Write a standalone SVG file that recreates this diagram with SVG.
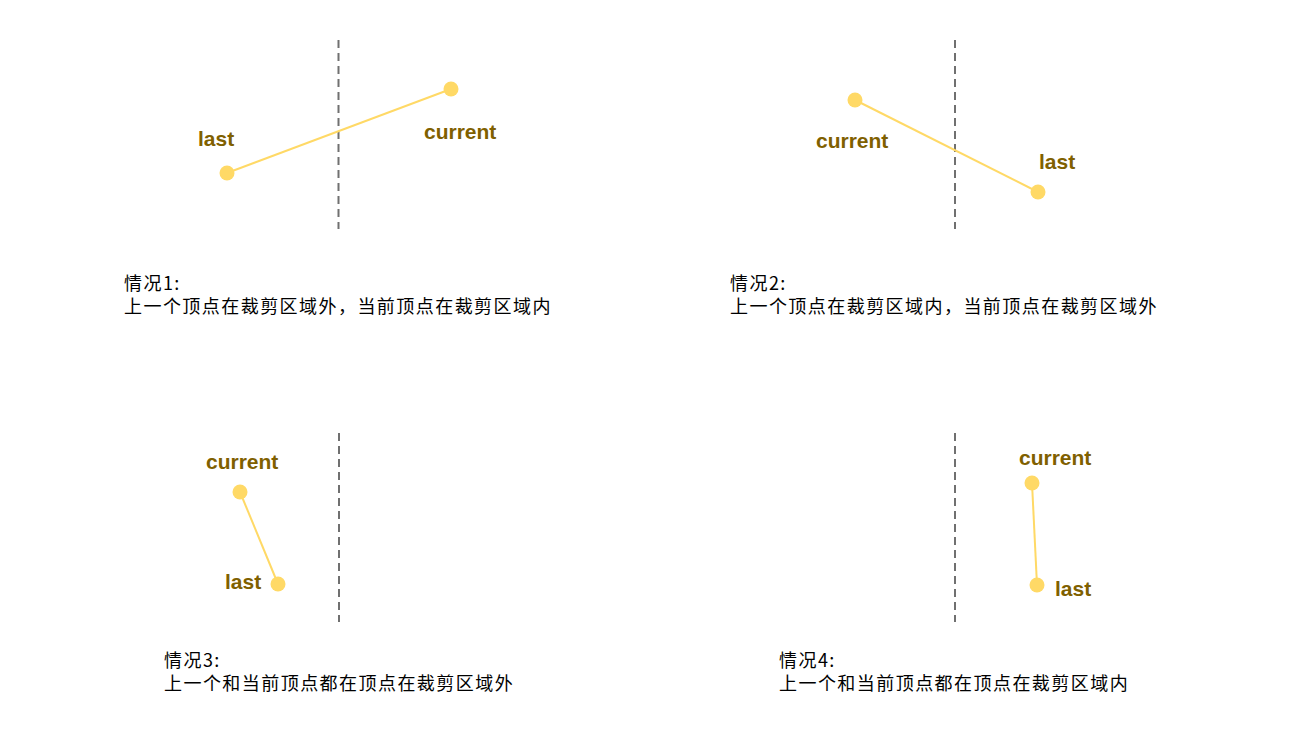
<svg xmlns="http://www.w3.org/2000/svg" width="1311" height="736" viewBox="0 0 1311 736">
<style>
.clip{stroke:#707070;stroke-width:2;stroke-dasharray:8,5;fill:none}
.seg{stroke:#FFD966;stroke-width:2;fill:none}
.pt{fill:#FFD966}
.lbl{font-family:"Liberation Sans",Arial,sans-serif;font-weight:bold;font-size:21px;fill:#7F6000}
.cap{font-family:"Noto Sans CJK SC","Noto Sans",sans-serif;font-size:18px;fill:#000;letter-spacing:1.45px}
</style>
<rect width="1311" height="736" fill="#fff"/>
<g id="clip-lines">
<line class="clip" x1="338.5" y1="40" x2="338.5" y2="229"/>
<line class="clip" x1="955" y1="40" x2="955" y2="229"/>
<line class="clip" x1="339" y1="433" x2="339" y2="622"/>
<line class="clip" x1="955" y1="433" x2="955" y2="622"/>
</g>
<g id="connectors">
<line class="seg" x1="227" y1="173" x2="451" y2="89"/>
<line class="seg" x1="855" y1="100" x2="1038" y2="192"/>
<line class="seg" x1="240" y1="492" x2="278" y2="584"/>
<line class="seg" x1="1032" y1="483" x2="1037" y2="585"/>
</g>
<g id="case1">
<circle class="pt" cx="227" cy="173" r="7.5"/>
<circle class="pt" cx="451" cy="89" r="7.5"/>
<text class="lbl" x="198" y="146">last</text>
<text class="lbl" x="424" y="139">current</text>
<text class="cap" x="124" y="290">情况1:</text>
<text class="cap" x="124" y="313">上一个顶点在裁剪区域外，当前顶点在裁剪区域内</text>
</g>
<g id="case2">
<circle class="pt" cx="855" cy="100" r="7.5"/>
<circle class="pt" cx="1038" cy="192" r="7.5"/>
<text class="lbl" x="816" y="148">current</text>
<text class="lbl" x="1039" y="169">last</text>
<text class="cap" x="730" y="290">情况2:</text>
<text class="cap" x="730" y="313">上一个顶点在裁剪区域内，当前顶点在裁剪区域外</text>
</g>
<g id="case3">
<circle class="pt" cx="240" cy="492" r="7.5"/>
<circle class="pt" cx="278" cy="584" r="7.5"/>
<text class="lbl" x="206" y="469">current</text>
<text class="lbl" x="225" y="589">last</text>
<text class="cap" x="164" y="667">情况3:</text>
<text class="cap" x="164" y="690">上一个和当前顶点都在顶点在裁剪区域外</text>
</g>
<g id="case4">
<circle class="pt" cx="1032" cy="483" r="7.5"/>
<circle class="pt" cx="1037" cy="585" r="7.5"/>
<text class="lbl" x="1019" y="465">current</text>
<text class="lbl" x="1055" y="596">last</text>
<text class="cap" x="779" y="667">情况4:</text>
<text class="cap" x="779" y="690">上一个和当前顶点都在顶点在裁剪区域内</text>
</g>
</svg>
